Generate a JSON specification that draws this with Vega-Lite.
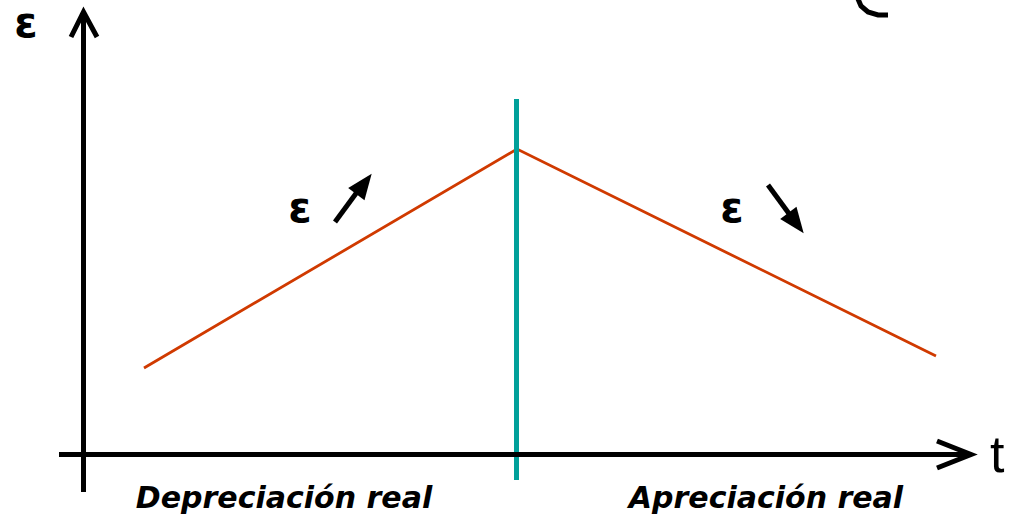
{
  "$schema": "https://vega.github.io/schema/vega-lite/v6.json",
  "width": 1020,
  "height": 520,
  "autosize": {"type": "none"},
  "padding": 0,
  "background": "white",
  "config": {"view": {"stroke": null}},
  "datasets": {
    "paths": [
      {"id": "yaxis", "o": 1, "t": 0.05, "e": -3.7},
      {"id": "yaxis", "o": 2, "t": 0.05, "e": 44.3},
      {"id": "yhead", "o": 1, "t": -1.2, "e": 41.8},
      {"id": "yhead", "o": 2, "t": 0.05, "e": 44.3},
      {"id": "yhead", "o": 3, "t": 1.4, "e": 41.8},
      {"id": "xaxis", "o": 1, "t": -2.4, "e": 0.05},
      {"id": "xaxis", "o": 2, "t": 88.8, "e": 0.05},
      {"id": "xhead", "o": 1, "t": 85.4, "e": 1.4},
      {"id": "xhead", "o": 2, "t": 88.8, "e": 0.05},
      {"id": "xhead", "o": 3, "t": 85.4, "e": -1.3},
      {"id": "arc", "o": 1, "t": 77.5, "e": 45.6},
      {"id": "arc", "o": 2, "t": 77.8, "e": 44.9},
      {"id": "arc", "o": 3, "t": 78.5, "e": 44.3},
      {"id": "arc", "o": 4, "t": 79.5, "e": 44.0},
      {"id": "arc", "o": 5, "t": 80.5, "e": 44.0}
    ],
    "curve": [
      {"t": 6.1, "e": 8.7},
      {"t": 43.4, "e": 30.6},
      {"t": 85.3, "e": 9.9}
    ],
    "divider": [{"t": 43.35, "e": 35.6, "e2": -2.5}],
    "shafts": [
      {"t": 25.2, "e": 23.3, "t2": 27.7, "e2": 26.7},
      {"t": 68.5, "e": 27.0, "t2": 70.7, "e2": 24.0}
    ],
    "headUp": [{"t": 28.1, "e": 27.1}],
    "headDown": [{"t": 71.3, "e": 23.2}],
    "symbols": [
      {"label": "ε", "t": -5.7, "e": 41.8},
      {"label": "ε", "t": 21.7, "e": 23.3},
      {"label": "ε", "t": 64.9, "e": 23.3}
    ],
    "tlabel": [{"label": "t", "t": 90.7, "e": -1.7}],
    "phases": [
      {"label": "Depreciación real", "t": 20.1, "e": -5.3},
      {"label": "Apreciación real", "t": 68.3, "e": -5.3}
    ]
  },
  "encoding": {
    "x": {"field": "t", "type": "quantitative", "scale": {"domain": [-8.3, 93.7], "nice": false, "zero": false}, "axis": null},
    "y": {"field": "e", "type": "quantitative", "scale": {"domain": [-6.5, 45.5], "nice": false, "zero": false}, "axis": null}
  },
  "layer": [
    {
      "data": {"name": "curve"},
      "mark": {"type": "line", "color": "#D03A00", "strokeWidth": 2.8, "clip": false}
    },
    {
      "data": {"name": "divider"},
      "mark": {"type": "rule", "color": "#00A09A", "strokeWidth": 5},
      "encoding": {"y2": {"field": "e2"}}
    },
    {
      "data": {"name": "paths"},
      "mark": {"type": "line", "color": "black", "strokeWidth": 5, "strokeJoin": "miter", "clip": false},
      "encoding": {
        "detail": {"field": "id"},
        "order": {"field": "o"}
      }
    },
    {
      "data": {"name": "shafts"},
      "mark": {"type": "rule", "color": "black", "strokeWidth": 5},
      "encoding": {"x2": {"field": "t2"}, "y2": {"field": "e2"}}
    },
    {
      "data": {"name": "headUp"},
      "mark": {"type": "point", "shape": "M0,-1L0.8,1L-0.8,1Z", "filled": true, "color": "black", "opacity": 1, "size": 650, "angle": 37}
    },
    {
      "data": {"name": "headDown"},
      "mark": {"type": "point", "shape": "M0,-1L0.8,1L-0.8,1Z", "filled": true, "color": "black", "opacity": 1, "size": 650, "angle": 143}
    },
    {
      "data": {"name": "symbols"},
      "mark": {"type": "text", "font": "DejaVu Sans", "fontSize": 42, "fontWeight": "bold", "align": "center", "baseline": "alphabetic", "color": "black"},
      "encoding": {"text": {"field": "label"}}
    },
    {
      "data": {"name": "tlabel"},
      "mark": {"type": "text", "font": "Liberation Sans", "fontSize": 52, "align": "left", "baseline": "alphabetic", "color": "black", "clip": false},
      "encoding": {"text": {"field": "label"}}
    },
    {
      "data": {"name": "phases"},
      "mark": {"type": "text", "font": "DejaVu Sans", "fontSize": 30, "fontWeight": "bold", "fontStyle": "italic", "align": "center", "baseline": "alphabetic", "color": "black"},
      "encoding": {"text": {"field": "label"}}
    }
  ]
}
